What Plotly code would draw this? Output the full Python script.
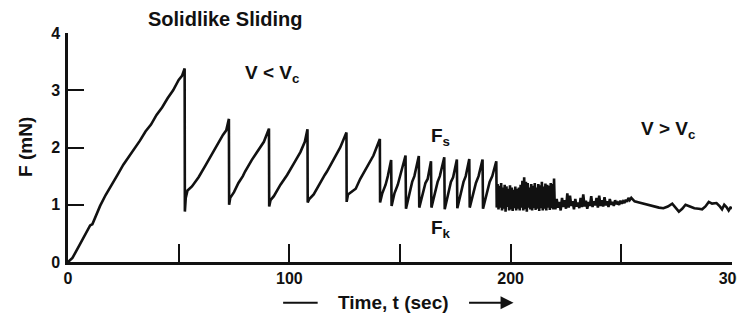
import plotly.graph_objects as go

# ---- data ----
# slow stick-slip region (t in s, F in mN)
slip_t = [0, 2, 5, 8, 10, 11, 12, 14.5, 17, 20, 22.5, 25, 27.5, 30, 32.5, 35, 37.5, 40, 42.5, 45, 47.5, 50, 51.5, 52.7,
          52.8, 53.2, 54, 56, 58, 59, 62, 64, 65, 68, 70, 71.5, 72.7,
          72.8, 73.3, 75, 77, 79, 80, 83, 86, 88.5, 90.8,
          90.9, 91.5, 93, 96, 98, 99, 102, 105, 107, 108.2,
          108.3, 109, 111, 114, 116, 117, 120, 123, 125.8,
          125.9, 126.5, 128, 130, 132, 135, 137, 138, 140.9, 141.0]
slip_f = [0, 0.07, 0.28, 0.50, 0.64, 0.66, 0.76, 0.98, 1.17, 1.38, 1.53, 1.70, 1.84, 1.97, 2.12, 2.28, 2.40, 2.57, 2.70, 2.86, 3.00, 3.18, 3.25, 3.38,
          0.88, 1.12, 1.25, 1.32, 1.42, 1.48, 1.68, 1.82, 1.88, 2.10, 2.22, 2.30, 2.50,
          1.00, 1.12, 1.22, 1.38, 1.50, 1.58, 1.78, 1.95, 2.10, 2.33,
          0.97, 1.08, 1.15, 1.35, 1.46, 1.52, 1.72, 1.92, 2.10, 2.32,
          1.04, 1.10, 1.18, 1.40, 1.52, 1.58, 1.78, 2.00, 2.26,
          1.05, 1.18, 1.22, 1.28, 1.45, 1.65, 1.78, 1.86, 2.15, 1.04]

# fast stick-slip teeth
teeth_t = [142, 143.5, 144.5, 146, 146.2, 147.5, 149, 150.5, 152.5, 152.7,
           154, 155.5, 156.5, 158.5, 158.7, 160, 161.5, 162.5, 164, 164.2,
           165.5, 167, 168, 170, 170.2, 171.5, 173, 174, 175.7, 175.9,
           177.2, 178.7, 179.7, 181.3, 181.5, 182.8, 184.3, 185.5, 187.3, 187.5,
           188.8, 190.5, 191.7, 193.5, 193.7]
teeth_f = [1.20, 1.35, 1.50, 1.78, 0.98, 1.20, 1.35, 1.55, 1.86, 0.93,
           1.15, 1.40, 1.50, 1.85, 0.95, 1.15, 1.38, 1.45, 1.76, 0.95,
           1.18, 1.40, 1.50, 1.83, 0.92, 1.15, 1.40, 1.48, 1.79, 0.94,
           1.15, 1.40, 1.50, 1.80, 0.95, 1.15, 1.38, 1.50, 1.79, 0.93,
           1.15, 1.40, 1.50, 1.76, 0.95]

# chattering region
chatter_t = [194.1, 194.5, 194.9, 195.3, 195.7, 196.1, 196.5, 196.9, 197.3, 197.7,
             198.1, 198.5, 198.9, 199.3, 199.7, 200.1, 200.5, 200.9, 201.3, 201.7,
             202.1, 202.5, 202.9, 203.3, 203.7, 204.1, 204.5, 204.9, 205.3, 205.7,
             206.1, 206.5, 206.9, 207.3, 207.7, 208.1, 208.5, 208.9, 209.3, 209.7,
             210.1, 210.5, 210.9, 211.3, 211.7, 212.1, 212.5, 212.9, 213.3, 213.7,
             214.1, 214.5, 214.9, 215.3, 215.7, 216.1, 216.5, 216.9, 217.3, 217.7,
             218.1, 218.5, 218.9, 219.3, 219.6, 219.9]
chatter_f = [1.36, 0.92, 1.33, 0.95, 1.38, 0.90, 1.30, 0.93, 1.35, 0.88,
             1.32, 0.96, 1.28, 0.90, 1.34, 0.92, 1.30, 0.89, 1.26, 0.94,
             1.32, 0.90, 1.28, 0.93, 1.30, 0.90, 1.35, 0.95, 1.42, 0.90,
             1.48, 0.92, 1.40, 0.88, 1.38, 0.95, 1.30, 0.92, 1.36, 0.90,
             1.33, 0.94, 1.38, 0.91, 1.30, 0.93, 1.36, 0.89, 1.34, 0.94,
             1.40, 0.90, 1.32, 0.93, 1.37, 0.90, 1.35, 0.95, 1.33, 0.91,
             1.38, 0.94, 1.36, 0.92, 1.46, 1.00]

# small-amplitude noise region
noise_t = [220.2, 220.8, 221.4, 222.0, 222.6, 223.2, 223.8, 224.4, 225.0, 225.6,
           226.2, 226.8, 227.4, 228.0, 228.6, 229.2, 229.8, 230.4, 231.0, 231.6,
           232.2, 232.8, 233.4, 234.0, 234.6, 235.2, 235.8, 236.4, 237.0, 237.6,
           238.2, 238.8, 239.4, 240.0, 240.6, 241.2, 241.8, 242.4, 243.0, 243.6,
           244.2, 244.8, 245.4, 246.0, 246.6, 247.2, 247.8, 248.4, 249.0, 249.6,
           250.2, 250.8, 251.4, 252.0, 252.6, 253.2, 253.8]
noise_f = [0.92, 1.10, 0.95, 1.05, 0.90, 1.12, 0.96, 1.08, 0.93, 1.20,
           0.95, 1.16, 0.98, 1.06, 0.92, 1.10, 0.97, 1.04, 0.94, 1.12,
           0.96, 1.18, 0.97, 1.07, 0.93, 1.05, 0.98, 1.15, 0.96, 1.06,
           0.99, 1.12, 0.95, 1.16, 0.98, 1.08, 0.97, 1.13, 0.99, 1.06,
           0.96, 1.10, 1.00, 1.05, 0.98, 1.08, 1.01, 1.04, 1.00, 1.07,
           1.02, 1.06, 1.03, 1.09, 1.05, 1.12, 1.08]

# smooth sliding (V > Vc)
smooth_t = [254.5, 256, 258, 260, 262, 264, 265.5, 267, 269, 271,
            273, 274.5, 276, 277.5, 279, 281, 283, 285, 286.5, 288,
            289.5, 291, 293, 294.5, 295.5, 296.5, 297.5, 298.5, 299.3, 300.0]
smooth_f = [1.12, 1.06, 1.04, 1.02, 1.00, 0.97, 0.96, 0.95, 0.94, 0.97,
            1.02, 0.95, 0.88, 0.93, 1.00, 0.97, 0.94, 0.93, 0.92, 0.97,
            1.05, 1.02, 1.03, 0.97, 0.92, 1.00, 0.96, 0.90, 0.95, 0.94]

x_ticks = [0, 50, 100, 150, 200, 250, 300]
x_labels = ["0", "", "100", "", "200", "", "300"]
y_ticks = [0, 1, 2, 3, 4]
y_labels = ["0", "1", "2", "3", "4"]

T = slip_t + teeth_t + chatter_t + noise_t + smooth_t
Fv = slip_f + teeth_f + chatter_f + noise_f + smooth_f

FONT = "Liberation Sans, Arial, sans-serif"
INK = "#111111"

fig = go.Figure()
fig.add_trace(go.Scatter(x=T, y=Fv, mode="lines",
                         line=dict(color=INK, width=2.6),
                         hoverinfo="skip", showlegend=False, cliponaxis=False))

axis_common = dict(showline=True, linecolor=INK, linewidth=2.5,
                   ticks="inside", tickcolor=INK, tickwidth=2,
                   showgrid=False, zeroline=False, ticklabeloverflow="allow",
                   automargin=False,
                   tickfont=dict(family=FONT, size=16, color=INK, weight="bold"))

# page body has an 8px default margin; figure is sized/placed to compensate
fig.update_layout(
    width=737, height=312,
    margin=dict(l=60, r=13, t=25, b=58),
    paper_bgcolor="white", plot_bgcolor="white",
    xaxis=dict(range=[0, 300], tickvals=x_ticks, ticktext=x_labels,
               ticklen=18, ticklabelstandoff=0, **axis_common),
    yaxis=dict(range=[0, 4], tickvals=y_ticks, ticktext=y_labels,
               ticklen=16, ticklabelstandoff=2, **axis_common),
)

def txt(s, x, y, xref="x", yref="y", size=19, angle=0):
    fig.add_annotation(text=s, x=x, y=y, xref=xref, yref=yref, showarrow=False,
                       textangle=angle, xanchor="center", yanchor="middle",
                       font=dict(family=FONT, size=size, color=INK, weight="bold"))

txt("Solidlike Sliding", 0.237, 1.063, "paper", "paper", size=20)
txt("V &lt; V<sub>c</sub>", 92.3, 3.28)
txt("F<sub>s</sub>", 168.5, 2.18)
txt("F<sub>k</sub>", 168.5, 0.58)
txt("V &gt; V<sub>c</sub>", 271, 2.30)
txt("F (mN)", -0.065, 0.502, "paper", "paper", angle=-90)
txt("Time, t (sec)", 0.490, -0.175, "paper", "paper")

# dash before the axis title and arrow after it
fig.add_shape(type="line", xref="paper", yref="paper",
              x0=0.324, x1=0.376, y0=-0.178, y1=-0.178,
              line=dict(color=INK, width=2))
fig.add_annotation(x=0.671, y=-0.178, xref="paper", yref="paper",
                   ax=-46, ay=0, axref="pixel", ayref="pixel", text="",
                   showarrow=True, arrowhead=2, arrowsize=1.3, arrowwidth=2,
                   arrowcolor=INK)

fig.write_html("out.html")
